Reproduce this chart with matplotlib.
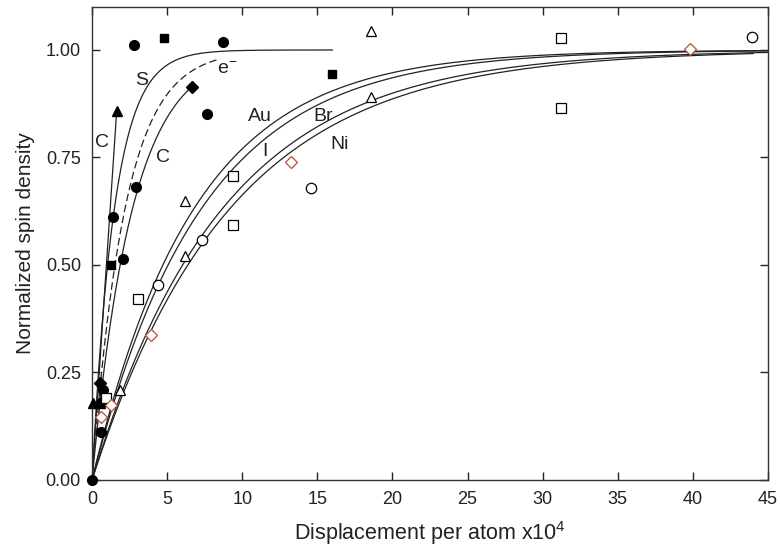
import matplotlib
matplotlib.use("Agg")
import matplotlib.pyplot as plt
import numpy as np
from matplotlib.ticker import FormatStrFormatter, MultipleLocator

plt.rcParams['font.family'] = ['Liberation Sans', 'DejaVu Sans']
plt.rcParams['mathtext.fontset'] = 'custom'
plt.rcParams['mathtext.rm'] = 'Liberation Sans'
plt.rcParams['mathtext.default'] = 'regular'


# measured points (displacement per atom x1e4, normalized spin density)
filled_circle_x = [0.0, 0.6, 0.6, 0.71, 1.42, 2.09, 2.93, 2.8, 7.64, 8.69]
filled_circle_y = [0.0, 0.112, 0.178, 0.21, 0.612, 0.514, 0.681, 1.012, 0.851, 1.019]

filled_square_x = [1.24, 4.8, 16.0]
filled_square_y = [0.5, 1.027, 0.944]

filled_diamond_x = [0.55, 6.64]
filled_diamond_y = [0.225, 0.913]

filled_triangle_x = [0.04, 0.5, 1.64]
filled_triangle_y = [0.178, 0.18, 0.858]

open_triangle_x = [1.87, 6.2, 6.2, 18.6, 18.6]
open_triangle_y = [0.21, 0.649, 0.522, 1.043, 0.89]

open_square_x = [0.93, 3.09, 9.36, 9.36, 31.2, 31.2]
open_square_y = [0.19, 0.421, 0.707, 0.594, 1.027, 0.864]

open_circle_x = [4.36, 7.31, 14.6, 43.9]
open_circle_y = [0.453, 0.558, 0.678, 1.031]

open_diamond_x = [0.6, 1.27, 3.93, 13.27, 39.8]
open_diamond_y = [0.147, 0.175, 0.338, 0.74, 1.002]

# saturation curves 1 - exp(-x/tau): time constant and last x of each curve
curve_tau = [1.49, 2.7, 6.8, 7.3, 8.7, 9.2]
curve_end = [16.0, 6.64, 45.0, 45.0, 45.0, 44.0]
e_tau = 2.2
e_end = 8.4

# straight carbon line
cline_x = [0.0, 1.64]
cline_y = [0.0, 0.858]

labels = ['C', 'S', 'e$^{-}$', 'C', 'Au', 'I', 'Br', 'Ni']
label_x = [0.65, 3.3, 9.0, 4.75, 11.2, 11.5, 15.4, 16.5]
label_y = [0.785, 0.93, 0.956, 0.75, 0.846, 0.765, 0.846, 0.78]


fig = plt.figure(figsize=(7.8, 5.5), dpi=100)
ax = fig.add_axes([0.118, 0.1273, 0.8667, 0.86])

lc = '#222222'
for tau, end in zip(curve_tau, curve_end):
    xs = np.linspace(0, end, 400)
    ax.plot(xs, 1 - np.exp(-xs / tau), color=lc, lw=0.9)

xs = np.linspace(0, e_end, 300)
ax.plot(xs, 1 - np.exp(-xs / e_tau), color=lc, lw=0.9, dashes=(6, 3))

ax.plot(cline_x, cline_y, color=lc, lw=0.9)

# markers may sit on the spines, so don't clip them
mk = dict(ls='none', zorder=3, clip_on=False)
ax.plot(filled_circle_x, filled_circle_y, 'o', color='black', ms=7, **mk)
ax.plot(filled_square_x, filled_square_y, 's', color='black', ms=6, **mk)
ax.plot(filled_diamond_x, filled_diamond_y, 'D', color='black', ms=6, **mk)
ax.plot(filled_triangle_x, filled_triangle_y, '^', color='black', ms=7, **mk)

ax.plot(open_triangle_x, open_triangle_y, '^', mfc='white', mec='black', mew=0.9, ms=7.5, **mk)
ax.plot(open_square_x, open_square_y, 's', mfc='white', mec='black', mew=0.9, ms=6.5, **mk)
ax.plot(open_circle_x, open_circle_y, 'o', mfc='white', mec='black', mew=0.9, ms=7.5, **mk)
ax.plot(open_diamond_x, open_diamond_y, 'D', mfc='white', mec='#b0503a', mew=0.9, ms=6, **mk)

for t, x, y in zip(labels, label_x, label_y):
    ax.text(x, y, t, fontsize=14, ha='center', va='center', color='#222222')

ax.set_xlim(0, 45)
ax.set_ylim(0, 1.1)
ax.xaxis.set_major_locator(MultipleLocator(5))
ax.yaxis.set_major_locator(MultipleLocator(0.25))
ax.yaxis.set_major_formatter(FormatStrFormatter('%.2f'))
ax.tick_params(direction='in', length=6, width=1, top=True, right=True,
               labelsize=13, colors='#222222', pad=8)

for s in ax.spines.values():
    s.set_linewidth(1.0)
    s.set_color('#333333')

ax.set_xlabel('Displacement per atom x10$^{4}$', fontsize=15.5, color='#222222', labelpad=8)
ax.set_ylabel('Normalized spin density', fontsize=15, color='#222222', labelpad=8)

fig.savefig('out.png', dpi=100)
